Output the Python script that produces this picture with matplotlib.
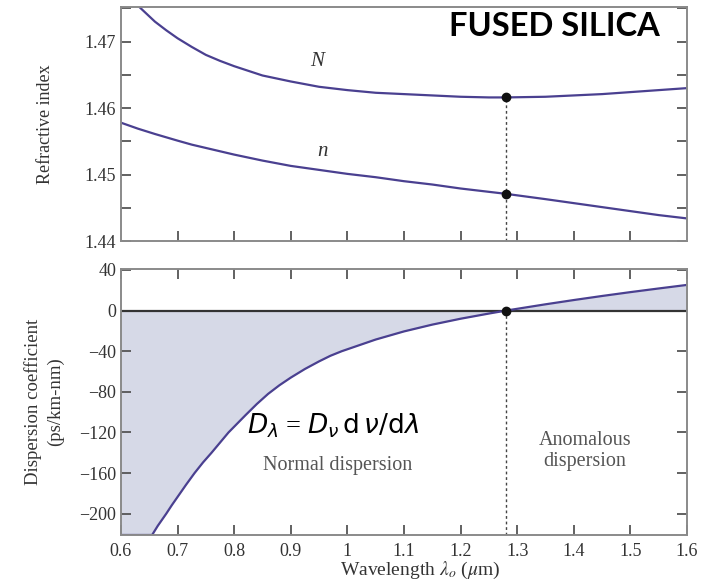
import numpy as np
import matplotlib
matplotlib.use('Agg')
import matplotlib.pyplot as plt

# wavelength grid (um) and refractive indices
lam_idx = [0.60, 0.63, 0.66, 0.68, 0.70, 0.725, 0.75, 0.775, 0.80, 0.85, 0.90, 0.95, 1.00, 1.05,
           1.10, 1.15, 1.20, 1.25, 1.28, 1.35, 1.40, 1.45, 1.50, 1.55, 1.60]
N_group = [1.4782, 1.4754, 1.4730, 1.4717, 1.4705, 1.4692, 1.4680, 1.4671, 1.4663, 1.4649, 1.4640,
           1.4632, 1.4627, 1.4623, 1.4621, 1.4619, 1.4617, 1.4616, 1.4616, 1.4617, 1.4619, 1.4621,
           1.4624, 1.4627, 1.4630]
n_phase = [1.4578, 1.4569, 1.4561, 1.4556, 1.4551, 1.4545, 1.4540, 1.4535, 1.4530, 1.4521, 1.4513,
           1.4507, 1.4501, 1.4496, 1.4490, 1.4485, 1.4479, 1.4474, 1.4471, 1.4463, 1.4457, 1.4451,
           1.4445, 1.4439, 1.4434]

# dispersion coefficient (ps/km-nm), clipped at the bottom of the axis like the original
lam_D = [0.600, 0.655, 0.665, 0.68, 0.69, 0.70, 0.715, 0.73, 0.745, 0.76, 0.775, 0.79, 0.805,
         0.82, 0.84, 0.86, 0.88, 0.90, 0.925, 0.95, 0.97, 0.99, 1.05, 1.10, 1.15, 1.20, 1.25,
         1.28, 1.35, 1.40, 1.45, 1.50, 1.55, 1.60]
D_lam = [-221, -221, -212, -200, -191.5, -183.5, -171.5, -160, -149.5, -140, -130, -120, -111.5,
         -103, -92, -82, -73.5, -66, -57.5, -50, -44.5, -40, -28.5, -20.5, -13.8, -8, -2.9,
         0, 6.2, 10.4, 14.4, 18.2, 21.8, 25.3]

lam_zero = 1.28
N_zero = 1.4616
n_zero = 1.4471

x_ticks = [0.6, 0.7, 0.8, 0.9, 1.0, 1.1, 1.2, 1.3, 1.4, 1.5, 1.6]
x_labels = ['0.6', '0.7', '0.8', '0.9', '1', '1.1', '1.2', '1.3', '1.4', '1.5', '1.6']
idx_ticks = [1.44, 1.45, 1.46, 1.47]
D_ticks = [40, 0, -40, -80, -120, -160, -200]

plt.rcParams['font.family'] = ['Liberation Serif', 'DejaVu Serif']
plt.rcParams['mathtext.fontset'] = 'stix'

curve = '#4a4090'
spine = '#8a8a8a'
txt = '#333333'

fig = plt.figure(figsize=(7.05, 5.85), dpi=100)
ax1 = fig.add_axes([0.1716, 0.588, 0.8028, 0.400])
ax2 = fig.add_axes([0.1716, 0.0855, 0.8028, 0.4547])

for ax in (ax1, ax2):
    for s in ax.spines.values():
        s.set_color(spine)
        s.set_linewidth(1.4)
    ax.set_xlim(0.6, 1.6)
    ax.tick_params(direction='in', length=7, width=1.3, color='#555555',
                   labelsize=13, labelcolor=txt, left=True, right=True)

# top panel: refractive index
ax1.plot(lam_idx, N_group, color=curve, lw=1.6)
ax1.plot(lam_idx, n_phase, color=curve, lw=1.6)
ax1.plot([lam_zero, lam_zero], [1.44, N_zero], color='#444444', lw=1, ls=(0, (2, 2)))
ax1.plot([lam_zero, lam_zero], [N_zero, n_zero], 'o', color='#111111', ms=6)
ax1.set_ylim(1.44, 1.4752)
ax1.set_yticks(idx_ticks)
ax1.set_yticklabels(['1.44', '1.45', '1.46', '1.47'])
ax1.set_yticks([1.445, 1.455, 1.465, 1.475], minor=True)
ax1.tick_params(which='minor', direction='in', length=7, width=1.3, color='#555555',
                left=True, right=True, bottom=False)
ax1.set_xticks(x_ticks[1:-1])
ax1.tick_params(axis='x', labelbottom=False, top=False)
ax1.set_ylabel('Refractive index', fontsize=13, color=txt, labelpad=22)
ax1.text(0.947, 1.4670, 'N', fontsize=15, style='italic', color=txt, ha='center', va='center')
ax1.text(0.956, 1.4534, 'n', fontsize=15, style='italic', color=txt, ha='center', va='center')
ax1.text(1.552, 1.4722, 'FUSED SILICA', family=['Lato', 'DejaVu Sans'], fontweight='bold',
         fontsize=23.5, color='black', ha='right', va='center')

# bottom panel: dispersion coefficient
ax2.fill_between(lam_D, D_lam, 0, color='#d6d9e7', lw=0)
ax2.axhline(0, color='#333333', lw=1.6)
ax2.plot(lam_D, D_lam, color=curve, lw=1.6)
ax2.plot([lam_zero, lam_zero], [-221, 0], color='#444444', lw=1, ls=(0, (2, 2)))
ax2.plot([lam_zero], [0], 'o', color='#111111', ms=6)
ax2.set_ylim(-221, 41)
ax2.set_yticks(D_ticks)
ax2.set_yticklabels(['40', '0', '\u221240', '\u221280', '\u2212120', '\u2212160', '\u2212200'])
ax2.set_xticks(x_ticks)
ax2.set_xticklabels(x_labels)
ax2.tick_params(axis='x', top=True, pad=6)
ax2.set_ylabel('Dispersion coefficient\n(ps/km-nm)', fontsize=13.5, color=txt, labelpad=11,
               linespacing=1.3)
ax2.set_xlabel(r'Wavelength $\lambda_o$ ($\mu$m)', fontsize=14, color=txt)
ax2.xaxis.set_label_coords(0.528, -0.092)

ax2.text(0.975, -113, r'$D_\lambda$ = $D_\nu\,\mathrm{d}\,\nu/\mathrm{d}\lambda$',
         fontsize=19, color='black', ha='center', va='center',
         math_fontfamily='dejavusans')
ax2.text(0.983, -153, 'Normal dispersion', fontsize=14.5, color='#555555', ha='center', va='center')
ax2.text(1.42, -138, 'Anomalous\ndispersion', fontsize=14.5, color='#555555', ha='center',
         va='center', linespacing=1.15)

fig.savefig('out.png', dpi=100)
